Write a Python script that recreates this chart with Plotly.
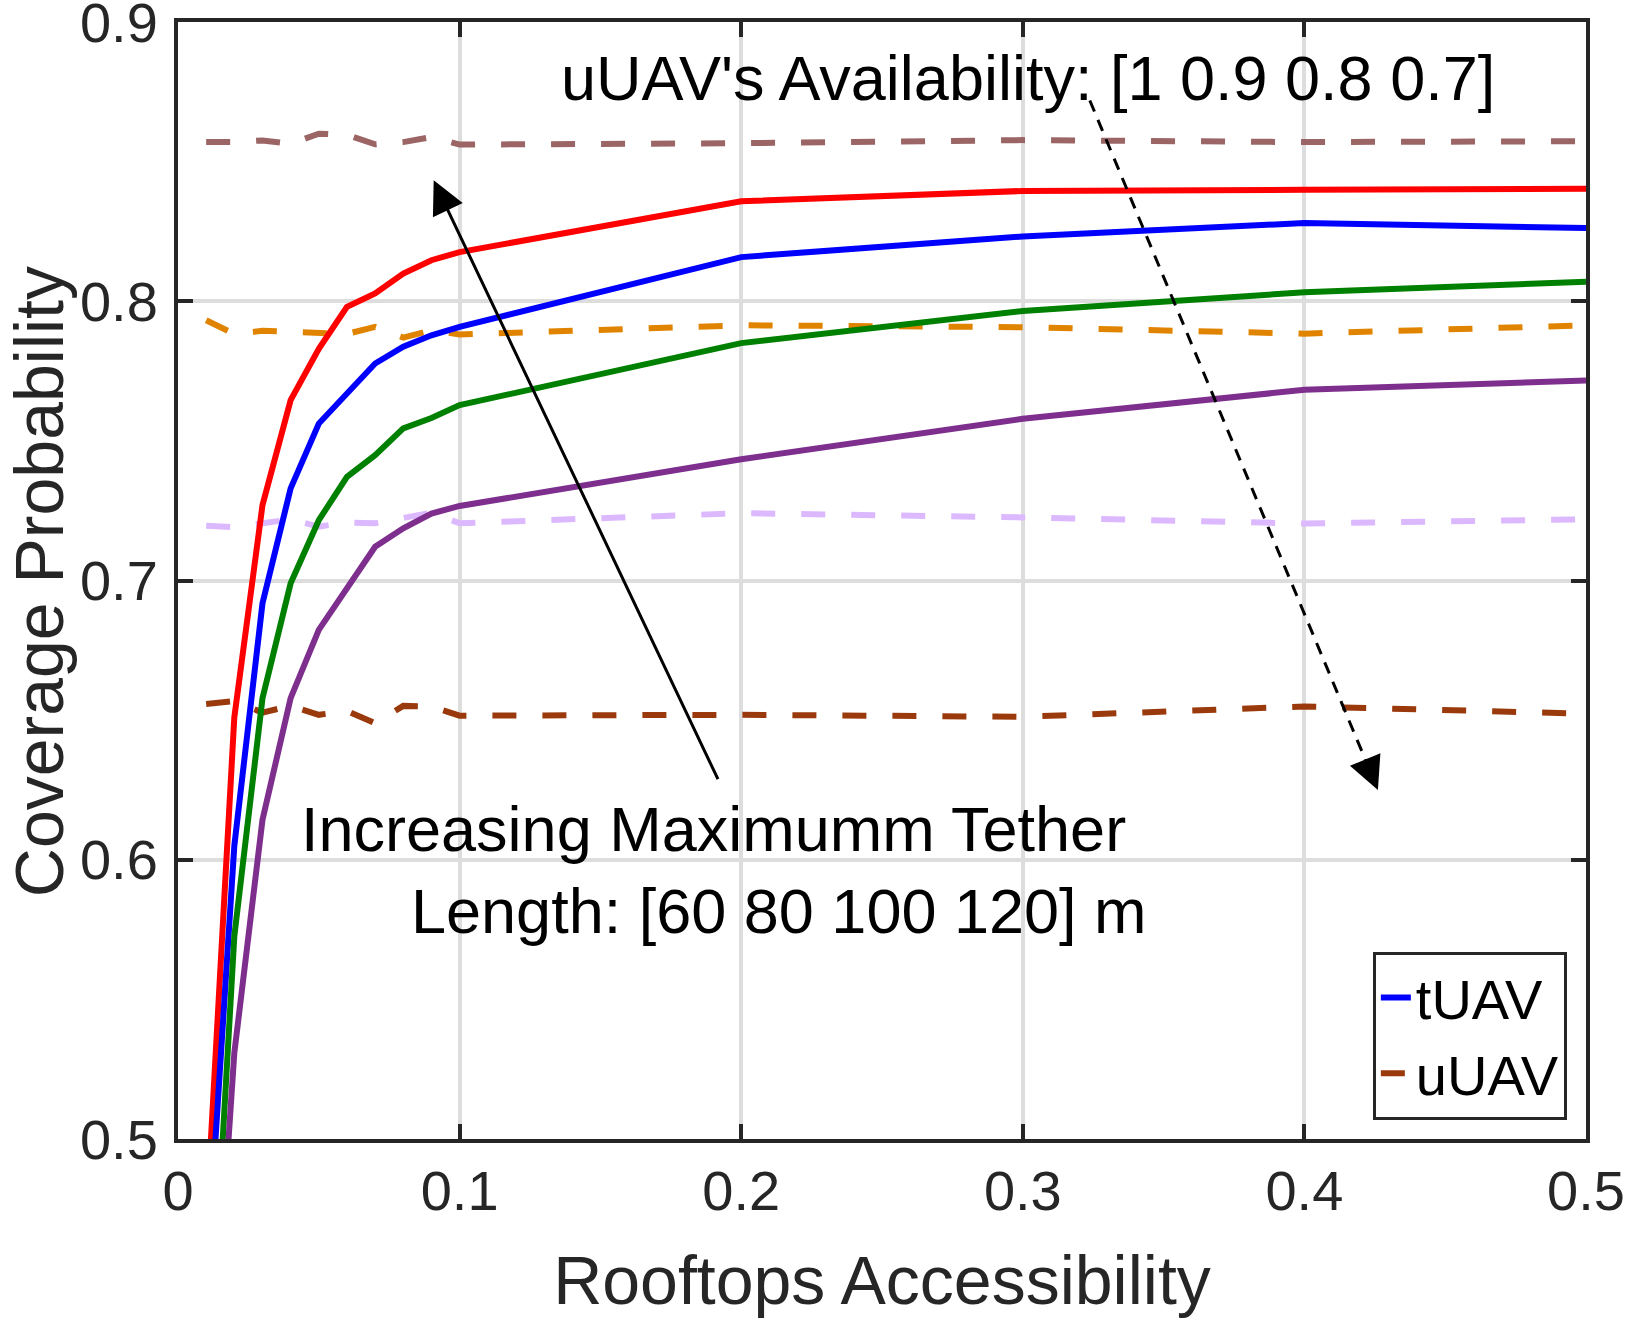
import plotly.graph_objects as go

# ---------------- data ----------------
access = [0.01, 0.02, 0.03, 0.04, 0.05, 0.06, 0.07, 0.08, 0.09, 0.10, 0.20, 0.30, 0.40, 0.50]

# tUAV, maximum tether length 60 / 80 / 100 / 120 m
t_60 = [0.380, 0.5308, 0.6143, 0.6579, 0.6823, 0.6972, 0.7121, 0.7187, 0.7240, 0.7267, 0.7434, 0.7579, 0.7683, 0.7716]
t_80 = [0.396, 0.5726, 0.6578, 0.6990, 0.7216, 0.7371, 0.7449, 0.7545, 0.7582, 0.7628, 0.7850, 0.7965, 0.8032, 0.8070]
t_100 = [0.448, 0.6050, 0.6918, 0.7330, 0.7562, 0.7670, 0.7777, 0.7837, 0.7878, 0.7908, 0.8158, 0.8232, 0.8280, 0.8262]
t_120 = [0.469, 0.6510, 0.7270, 0.7646, 0.7830, 0.7980, 0.8028, 0.8099, 0.8147, 0.8176, 0.8358, 0.8395, 0.8399, 0.8403]

# uUAV, availability 1 / 0.9 / 0.8 / 0.7
u_10 = [0.8570, 0.8570, 0.8576, 0.8564, 0.8600, 0.8596, 0.8562, 0.8570, 0.8588, 0.8561, 0.8566, 0.8577, 0.8570, 0.8573]
u_09 = [0.7932, 0.7883, 0.7894, 0.7890, 0.7884, 0.7883, 0.7908, 0.7870, 0.7896, 0.7881, 0.7914, 0.7907, 0.7884, 0.7914]
u_08 = [0.7196, 0.7191, 0.7205, 0.7219, 0.7193, 0.7208, 0.7205, 0.7222, 0.7243, 0.7205, 0.7241, 0.7226, 0.7204, 0.7219]
u_07 = [0.6558, 0.6568, 0.6527, 0.6551, 0.6519, 0.6533, 0.6489, 0.6551, 0.6549, 0.6516, 0.6519, 0.6512, 0.6549, 0.6523]

x_ticks = [0, 0.1, 0.2, 0.3, 0.4, 0.5]
x_tick_text = ["0", "0.1", "0.2", "0.3", "0.4", "0.5"]
y_ticks = [0.5, 0.6, 0.7, 0.8, 0.9]
y_tick_text = ["0.5", "0.6", "0.7", "0.8", "0.9"]

FONT = "Liberation Sans, Arial, Helvetica, sans-serif"
AXC = "#262626"

fig = go.Figure()

solid = [
    (t_120, "#ff0000", False),
    (t_100, "#0000ff", True),
    (t_80, "#008000", False),
    (t_60, "#7e2f8e", False),
]
dashed = [
    (u_10, "#9b6565", False),
    (u_09, "#e08400", False),
    (u_08, "#dcb9ff", False),
    (u_07, "#9a3a0c", True),
]

for ys, col, leg in dashed:
    fig.add_trace(go.Scatter(
        x=access, y=ys, mode="lines", name="uUAV",
        line=dict(color=col, width=6, dash="24px,26px"),
        showlegend=leg, legendrank=2))
for ys, col, leg in solid:
    fig.add_trace(go.Scatter(
        x=access, y=ys, mode="lines", name="tUAV",
        line=dict(color=col, width=6),
        showlegend=leg, legendrank=1))

# dotted arrow (availability)
fig.add_shape(type="line", xref="x", yref="y",
              x0=0.3238, y0=0.8719, x1=0.4227, y1=0.6333,
              line=dict(color="black", width=3, dash="12px,9px"))
fig.add_annotation(x=0.4261, y=0.625, ax=-9.6, ay=-23, xref="x", yref="y",
                   text="", showarrow=True, arrowhead=2, arrowsize=2.2,
                   arrowwidth=3, arrowcolor="black")

# solid arrow (tether length)
fig.add_annotation(x=0.0908, y=0.8433, ax=0.192, ay=0.6283,
                   xref="x", yref="y", axref="x", ayref="y",
                   text="", showarrow=True, arrowhead=2, arrowsize=2.2,
                   arrowwidth=3, arrowcolor="black")

fig.add_annotation(x=0.3018, y=0.8800, xref="x", yref="y",
                   text="uUAV's Availability: [1 0.9 0.8 0.7]", showarrow=False,
                   font=dict(family=FONT, size=63, color="black"))
fig.add_annotation(x=0.1903, y=0.6110, xref="x", yref="y",
                   text="Increasing Maximumm Tether", showarrow=False,
                   font=dict(family=FONT, size=63, color="black"))
fig.add_annotation(x=0.2133, y=0.5816, xref="x", yref="y",
                   text="Length: [60 80 100 120] m", showarrow=False,
                   font=dict(family=FONT, size=63, color="black"))

# y-axis title
fig.add_annotation(x=-0.099, y=0.499, xref="paper", yref="paper",
                   text="Coverage Probability", showarrow=False, textangle=-90,
                   xanchor="center", yanchor="middle",
                   font=dict(family=FONT, size=68, color=AXC))

fig.update_layout(
    width=1628, height=1323,
    margin=dict(l=178, r=42, t=22, b=184, autoexpand=False),
    paper_bgcolor="white", plot_bgcolor="white",
    font=dict(family=FONT, color=AXC),
    legend=dict(x=0.9864, y=0.0174, xanchor="right", yanchor="bottom",
                bgcolor="white", bordercolor=AXC, borderwidth=3,
                font=dict(family=FONT, size=56, color="black"),
                itemwidth=30, tracegroupgap=0),
)
fig.update_xaxes(
    range=[0, 0.5], tickvals=x_ticks, ticktext=x_tick_text,
    showgrid=True, gridcolor="#dddddd", gridwidth=3.5, zeroline=False,
    showline=True, linecolor=AXC, linewidth=4, mirror="allticks",
    ticks="inside", ticklen=15, tickwidth=4, tickcolor=AXC,
    automargin=False, ticklabeloverflow="allow",
    tickfont=dict(family=FONT, size=56, color=AXC),
    title=dict(text="Rooftops Accessibility", standoff=36,
               font=dict(family=FONT, size=68, color=AXC)))
fig.update_yaxes(
    range=[0.5, 0.9], tickvals=y_ticks, ticktext=y_tick_text,
    showgrid=True, gridcolor="#dddddd", gridwidth=3.5, zeroline=False,
    showline=True, linecolor=AXC, linewidth=4, mirror="allticks",
    ticks="inside", ticklen=15, tickwidth=4, tickcolor=AXC,
    automargin=False, ticklabeloverflow="allow", ticklabelstandoff=5,
    tickfont=dict(family=FONT, size=56, color=AXC))

fig.write_html("out.html")
